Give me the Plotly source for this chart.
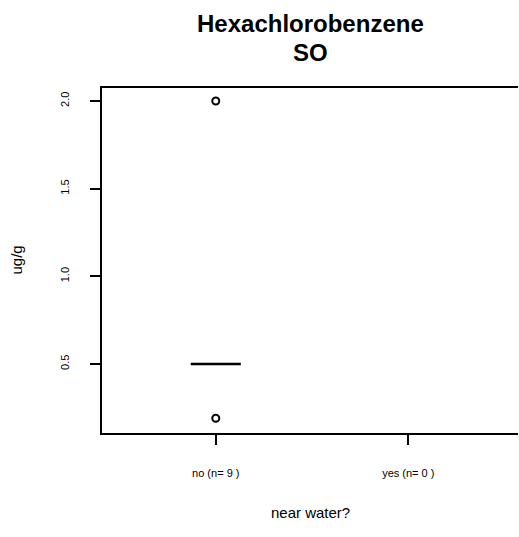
import plotly.graph_objects as go

# concentration values for the "no" group (n = 9); the "yes" group is empty
no_vals = [0.19, 0.5, 0.5, 0.5, 0.5, 0.5, 0.5, 0.5, 2.0]
cat_pos = [1, 2]
cat_labels = ["no (n= 9 )", "yes (n= 0 )"]
y_ticks = [0.5, 1.0, 1.5, 2.0]
y_tick_text = ["0.5", "1.0", "1.5", "2.0"]

font = "Liberation Sans, Arial, sans-serif"

fig = go.Figure()
fig.add_trace(go.Box(
    x=[cat_pos[0]] * len(no_vals),
    y=no_vals,
    width=0.26,
    boxpoints="outliers",
    fillcolor="rgba(0,0,0,0)",
    line=dict(color="black", width=2.5),
    whiskerwidth=0,
    marker=dict(symbol="circle-open", size=7, color="black", line=dict(width=2)),
    showlegend=False,
))

fig.update_layout(
    width=519, height=537,
    margin=dict(l=102, r=1, t=88, b=104),
    plot_bgcolor="white", paper_bgcolor="white",
    font=dict(family=font, color="black"),
    xaxis=dict(range=[0.409, 2.57], tickvals=cat_pos, ticktext=cat_labels,
               showgrid=False, zeroline=False, showline=True, mirror=True,
               linecolor="black", linewidth=1.5, ticks="outside", ticklen=10,
               tickwidth=1.5, tickcolor="black", tickfont=dict(size=11),
               ticklabelstandoff=19),
    yaxis=dict(range=[0.106, 2.074], tickvals=y_ticks, ticktext=y_tick_text,
               showgrid=False, zeroline=False, showline=True, mirror=False,
               linecolor="black", linewidth=1.5, ticks="outside", ticklen=10,
               tickwidth=1.5, tickcolor="black", tickfont=dict(size=11),
               tickangle=-90, ticklabelstandoff=17),
    annotations=[
        dict(text="<b>Hexachlorobenzene</b>", xref="paper", yref="paper", x=0.5, y=1,
             yshift=65, xanchor="center", yanchor="middle", showarrow=False,
             borderpad=0, font=dict(size=24)),
        dict(text="<b>SO</b>", xref="paper", yref="paper", x=0.5, y=1,
             yshift=36, xanchor="center", yanchor="middle", showarrow=False,
             borderpad=0, font=dict(size=24)),
        dict(text="ug/g", xref="paper", yref="paper", x=0, y=0.5, xshift=-86,
             xanchor="center", yanchor="middle", textangle=-90, showarrow=False,
             font=dict(size=15)),
        dict(text="near water?", xref="paper", yref="paper", x=0.5, y=0, yshift=-79,
             xanchor="center", yanchor="middle", showarrow=False, font=dict(size=15)),
    ],
)

fig.write_html("out.html", config={"displayModeBar": False},
               post_script="document.body.style.margin='0';")
